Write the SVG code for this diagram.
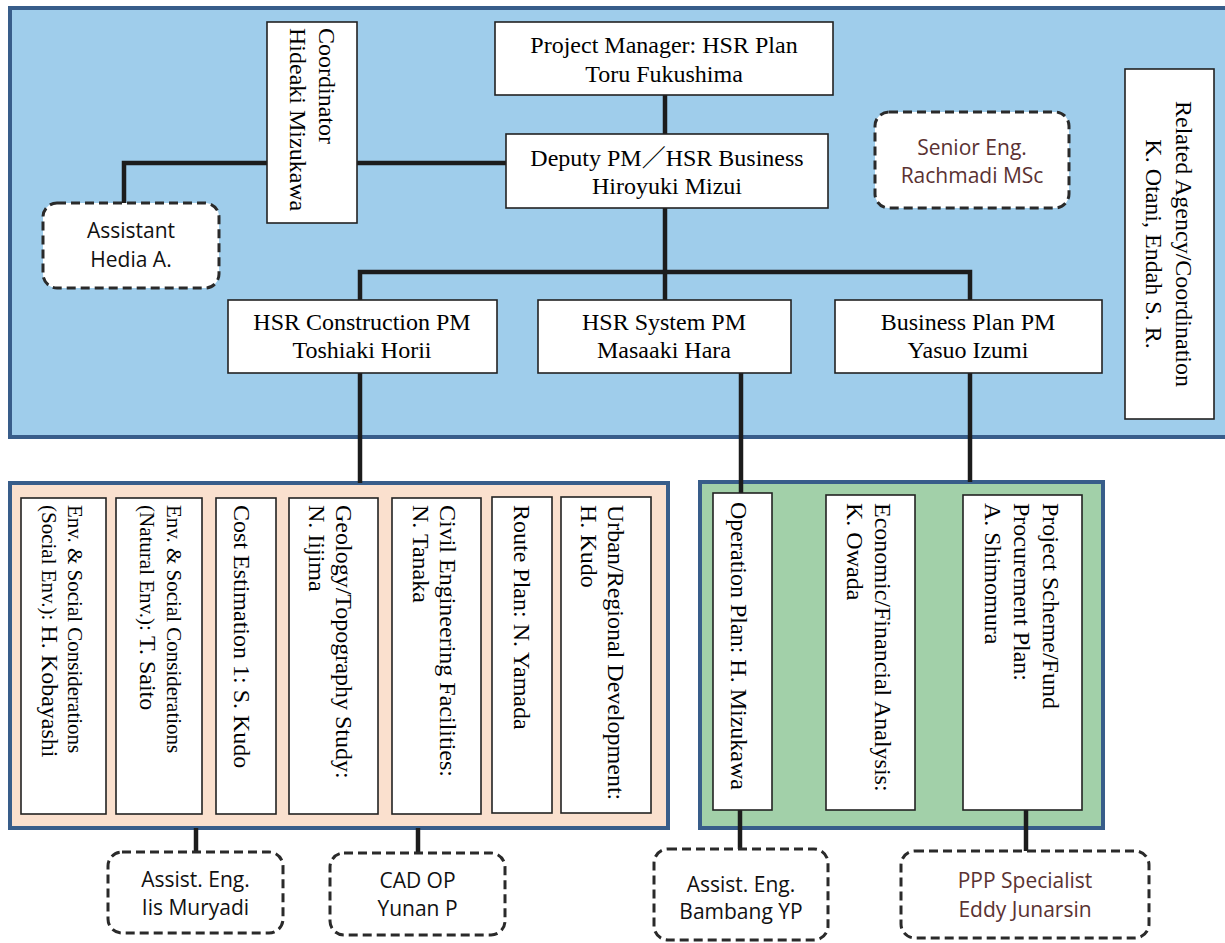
<svg xmlns="http://www.w3.org/2000/svg" width="1225" height="943" viewBox="0 0 1225 943">
<style>
.panel{stroke:#385d8a;stroke-width:4}
.box{fill:#fff;stroke:#222;stroke-width:1.6}
.dash{fill:#fff;stroke:#2a2a2a;stroke-width:3;stroke-dasharray:9 5}
.conn{fill:none;stroke:#1c1c1c;stroke-width:4.5;stroke-linejoin:miter}
.s{font-family:"Liberation Serif","Times New Roman","Noto Sans CJK JP",serif;font-size:24px;fill:#000}
.v{font-family:"Liberation Serif","Times New Roman",serif;font-size:24px;fill:#000}
.sm{font-size:21px}
.c{text-anchor:middle}
.ss{font-family:"Open Sans","Noto Sans",sans-serif;font-size:21px;fill:#111;text-anchor:middle}
.br{fill:#5a3232}
</style>
<g id="panels">
<rect class="panel" x="10" y="8" width="1230" height="429" fill="#9fcdeb"/>
<rect class="panel" x="10" y="483" width="658" height="345" fill="#fae0ce"/>
<rect class="panel" x="700" y="482" width="403" height="346" fill="#a2d0a9"/>
</g>
<g id="connectors">
<path class="conn" d="M665 95V134"/>
<path class="conn" d="M506 163H124V203"/>
<path class="conn" d="M665 208V300"/>
<path class="conn" d="M360 300V272H970V300"/>
<path class="conn" d="M360 373V483"/>
<path class="conn" d="M741 373V493"/>
<path class="conn" d="M970 373V482"/>
<path class="conn" d="M196 828V852"/>
<path class="conn" d="M418 828V853"/>
<path class="conn" d="M740 810V849"/>
<path class="conn" d="M1026 810V851"/>
</g>
<g id="pm">
<rect class="box" x="495" y="22" width="338" height="73"/>
<text class="s c" x="664" y="53">Project Manager: HSR Plan</text>
<text class="s c" x="664" y="82">Toru Fukushima</text>
</g>
<g id="deputy">
<rect class="box" x="506" y="134" width="322" height="74"/>
<text class="s c" x="667" y="166">Deputy PM／HSR Business</text>
<text class="s c" x="667" y="194">Hiroyuki Mizui</text>
</g>
<g id="coordinator">
<rect class="box" x="267" y="22" width="90" height="201"/>
<text class="v" transform="translate(319,28) rotate(90)"><tspan x="0" y="0">Coordinator</tspan><tspan x="0" y="29">Hideaki Mizukawa</tspan></text>
</g>
<g id="assistant">
<rect class="dash" x="43" y="203" width="176" height="85" rx="14"/>
<text class="ss" x="131" y="238">Assistant</text>
<text class="ss" x="131" y="267">Hedia A.</text>
</g>
<g id="senior">
<rect class="dash" x="875" y="112" width="194" height="96" rx="14"/>
<text class="ss br" x="972" y="155">Senior Eng.</text>
<text class="ss br" x="972" y="183">Rachmadi MSc</text>
</g>
<g id="related">
<rect class="box" x="1125" y="69" width="89" height="350"/>
<text class="v c" transform="translate(1176,244) rotate(90)"><tspan x="0" y="0">Related Agency/Coordination</tspan><tspan x="0" y="30">K. Otani, Endah S. R.</tspan></text>
</g>
<g id="construction">
<rect class="box" x="228" y="300" width="269" height="73"/>
<text class="s c" x="362" y="330">HSR Construction PM</text>
<text class="s c" x="362" y="358">Toshiaki Horii</text>
</g>
<g id="system">
<rect class="box" x="538" y="300" width="253" height="73"/>
<text class="s c" x="664" y="330">HSR System PM</text>
<text class="s c" x="664" y="358">Masaaki Hara</text>
</g>
<g id="business">
<rect class="box" x="835" y="300" width="267" height="73"/>
<text class="s c" x="968" y="330">Business Plan PM</text>
<text class="s c" x="968" y="358">Yasuo Izumi</text>
</g>
<g id="env-social">
<rect class="box" x="21" y="498" width="85" height="316"/>
<text class="v" transform="translate(68,505) rotate(90)"><tspan x="0" y="0" class="sm">Env. &amp; Social Considerations</tspan><tspan x="0" y="26" class="sm">(Social Env.): </tspan><tspan font-size="24">H. Kobayashi</tspan></text>
</g>
<g id="env-natural">
<rect class="box" x="116" y="498" width="86" height="316"/>
<text class="v" transform="translate(167,505) rotate(90)"><tspan x="0" y="0" class="sm">Env. &amp; Social Considerations</tspan><tspan x="0" y="27" class="sm">(Natural Env.): </tspan><tspan font-size="24">T. Saito</tspan></text>
</g>
<g id="cost">
<rect class="box" x="216" y="498" width="60" height="316"/>
<text class="v" transform="translate(234,505) rotate(90)">Cost Estimation 1: S. Kudo</text>
</g>
<g id="geology">
<rect class="box" x="289" y="498" width="89" height="316"/>
<text class="v" transform="translate(336,505) rotate(90)"><tspan x="0" y="0">Geology/Topography Study:</tspan><tspan x="0" y="27">N. Iijima</tspan></text>
</g>
<g id="civil">
<rect class="box" x="392" y="498" width="89" height="316"/>
<text class="v" transform="translate(440,505) rotate(90)"><tspan x="0" y="0">Civil Engineering Facilities:</tspan><tspan x="0" y="27">N. Tanaka</tspan></text>
</g>
<g id="route">
<rect class="box" x="492" y="497" width="60" height="316"/>
<text class="v" transform="translate(514,505) rotate(90)">Route Plan: N. Yamada</text>
</g>
<g id="urban">
<rect class="box" x="561" y="497" width="90" height="316"/>
<text class="v" transform="translate(608,505) rotate(90)"><tspan x="0" y="0">Urban/Regional Development:</tspan><tspan x="0" y="27">H. Kudo</tspan></text>
</g>
<g id="operation">
<rect class="box" x="713" y="493" width="59" height="317"/>
<text class="v" transform="translate(731,502) rotate(90)">Operation Plan: H. Mizukawa</text>
</g>
<g id="economic">
<rect class="box" x="826" y="495" width="89" height="315"/>
<text class="v" transform="translate(875,503) rotate(90)"><tspan x="0" y="0">Economic/Financial Analysis:</tspan><tspan x="0" y="28">K. Owada</tspan></text>
</g>
<g id="project-scheme">
<rect class="box" x="963" y="495" width="119" height="315"/>
<text class="v" transform="translate(1043,503) rotate(90)"><tspan x="0" y="0">Project Scheme/Fund</tspan><tspan x="0" y="29">Procurement Plan:</tspan><tspan x="0" y="58">A. Shimomura</tspan></text>
</g>
<g id="assist-iis">
<rect class="dash" x="108" y="852" width="175" height="81" rx="14"/>
<text class="ss" x="195.5" y="887">Assist. Eng.</text>
<text class="ss" x="195.5" y="915">Iis Muryadi</text>
</g>
<g id="cad">
<rect class="dash" x="330" y="853" width="175" height="82" rx="14"/>
<text class="ss" x="417.5" y="888">CAD OP</text>
<text class="ss" x="417.5" y="916">Yunan P</text>
</g>
<g id="assist-bambang">
<rect class="dash" x="654" y="849" width="174" height="91" rx="14"/>
<text class="ss" x="741" y="892">Assist. Eng.</text>
<text class="ss" x="741" y="919">Bambang YP</text>
</g>
<g id="ppp">
<rect class="dash" x="901" y="851" width="248" height="87" rx="14"/>
<text class="ss br" x="1025" y="888">PPP Specialist</text>
<text class="ss br" x="1025" y="917">Eddy Junarsin</text>
</g>
</svg>
